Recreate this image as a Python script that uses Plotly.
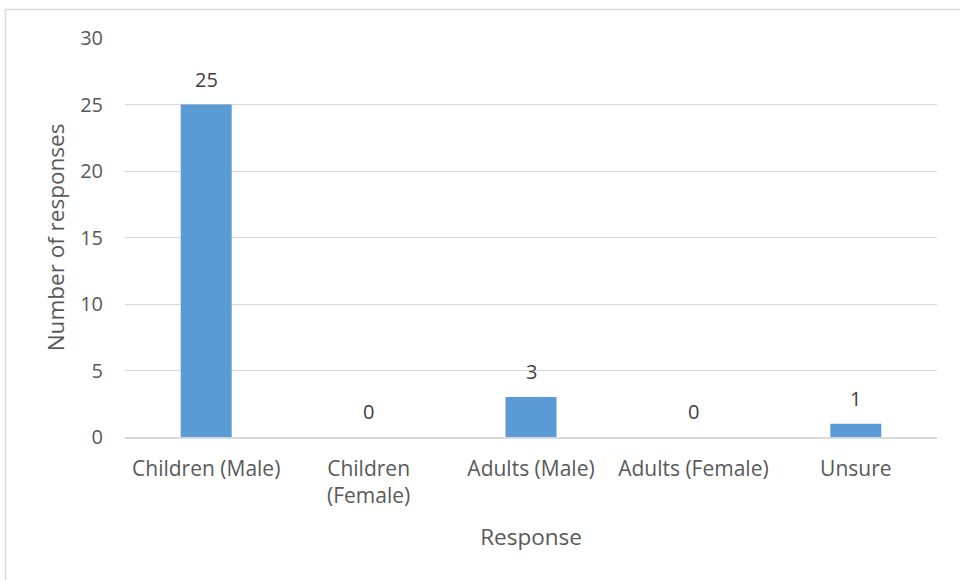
import plotly.graph_objects as go

categories = ["Children (Male)", "Children<br>(Female)", "Adults (Male)", "Adults (Female)", "Unsure"]
values = [25, 0, 3, 0, 1]
y_ticks = [0, 5, 10, 15, 20, 25, 30]

FONT = "Open Sans"
TXT = "#595959"
GRID = "#d9d9d9"
BAR = "#5b9bd5"

fig = go.Figure()
fig.add_trace(go.Bar(x=categories, y=values, marker=dict(color=BAR, line=dict(width=0)),
                     hoverinfo="skip"))

for c, v in zip(categories, values):
    fig.add_annotation(x=c, y=v, text=str(v), showarrow=False, yanchor="bottom",
                       yshift=10, font=dict(family=FONT, size=20, color="#404040"))

L, R, T, B = 125, 23, 38, 143
W, H = 960, 580
pw, ph = W - L - R, H - T - B

# chart-area border (left and top edges visible)
bx = (5.5 - L) / pw
by = (H - B - 9.5) / ph
fig.add_shape(type="line", xref="paper", yref="paper", x0=bx, x1=bx, y0=by, y1=-1,
              line=dict(color=GRID, width=1.5))
fig.add_shape(type="line", xref="paper", yref="paper", x0=bx, x1=1.2, y0=by, y1=by,
              line=dict(color=GRID, width=1.5))

fig.update_layout(
    width=W, height=H,
    margin=dict(l=L, r=R, t=T, b=B),
    paper_bgcolor="white", plot_bgcolor="white",
    bargap=0.686,
    showlegend=False,
    font=dict(family=FONT, size=20, color=TXT),
    xaxis=dict(showgrid=False, showline=True, linecolor=GRID, linewidth=1.5,
               ticks="", ticklabelstandoff=12, tickfont=dict(family=FONT, size=21, color=TXT),
               title=dict(text="Response", font=dict(family=FONT, size=22.5, color=TXT), standoff=21)),
    yaxis=dict(range=[0, 30], tickvals=y_ticks, showgrid=True, gridcolor=GRID, gridwidth=1.3,
               zeroline=False, showline=False, ticks="", ticklabelstandoff=21,
               tickfont=dict(family=FONT, size=20, color=TXT),
               title=dict(text="Number of responses", font=dict(family=FONT, size=22.5, color=TXT),
                          standoff=9)),
)

fig.write_html("out.html", config={"displayModeBar": False},
               post_script="document.body.style.margin='0';")
